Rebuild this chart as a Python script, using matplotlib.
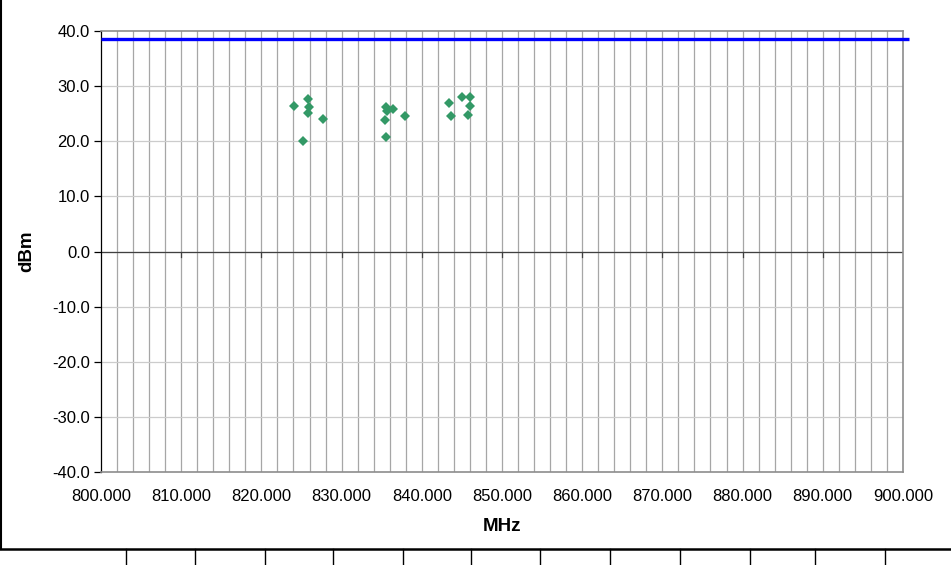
import numpy as np
import matplotlib.pyplot as plt
from matplotlib.lines import Line2D

plt.rcParams['font.family'] = ['Liberation Sans', 'DejaVu Sans']

# measured emissions
freq_mhz = [824.1, 825.85, 825.95, 825.85, 827.7, 825.2,
            835.5, 835.7, 836.45, 835.4, 835.5, 837.95,
            843.4, 845.0, 846.05, 846.05, 843.7, 845.8]
level_dbm = [26.4, 27.6, 26.3, 25.1, 24.0, 20.1,
             26.3, 25.5, 25.8, 23.8, 20.7, 24.6,
             27.0, 28.1, 28.0, 26.4, 24.5, 24.7]

limit_dbm = 38.62
x_ticks = np.arange(800, 901, 10)
y_ticks = np.arange(-40, 41, 10)

fig = plt.figure(figsize=(9.51, 5.65), dpi=100)
ax = fig.add_axes([0.1062, 0.1646, 0.8433, 0.7805])

ax.set_xlim(800, 900)
ax.set_ylim(-40, 40)

# gridlines
for x in np.arange(802, 900, 2):
    ax.axvline(x, color='#a6a6a6', lw=0.9, zorder=1)
for y in y_ticks[1:-1]:
    ax.axhline(y, color='#cccccc', lw=0.9, zorder=1)

# category axis crossing at zero, with ticks
ax.axhline(0, color='#404040', lw=0.9, zorder=2)
for x in x_ticks[1:-1]:
    ax.plot([x, x], [0, -1.0], color='#404040', lw=0.9, zorder=2)

ax.plot(freq_mhz, level_dbm, 'D', color='#339966', markersize=5.3,
        markeredgewidth=0, zorder=4)
ax.plot([800, 900.7], [limit_dbm, limit_dbm], color='#0000ff', lw=2.4,
        zorder=5, clip_on=False, solid_capstyle='butt')

ax.set_xticks(x_ticks)
ax.set_xticklabels([f'{v:.3f}' for v in x_ticks])
ax.set_yticks(y_ticks)
ax.set_yticklabels([f'{v:.1f}' for v in y_ticks])
ax.tick_params(axis='x', length=0, pad=12, labelsize=12)
ax.tick_params(axis='y', length=5, width=0.9, pad=3, labelsize=12,
               color='#000000')

for side in ['top', 'right', 'bottom']:
    ax.spines[side].set_color('#8c8c8c')
    ax.spines[side].set_linewidth(1.2)
ax.spines['left'].set_color('#000000')
ax.spines['left'].set_linewidth(0.9)

ax.set_xlabel('MHz', fontsize=13.5, fontweight='bold', labelpad=10)
ax.set_ylabel('dBm', fontsize=13.5, fontweight='bold', labelpad=12)

# sheet border lines
fig.add_artist(Line2D([0.0015, 0.0015], [1.0, 0.029], color='black', lw=1.5,
                      transform=fig.transFigure))
fig.add_artist(Line2D([0, 1], [0.029, 0.029], color='black', lw=1.8,
                      transform=fig.transFigure))
for px in [126, 195, 265, 333, 403, 471, 540, 610, 680, 750, 815, 885]:
    fig.add_artist(Line2D([px / 951, px / 951], [0.029, 0.0], color='black',
                          lw=1.0, transform=fig.transFigure))

fig.savefig('out.png', dpi=100)
